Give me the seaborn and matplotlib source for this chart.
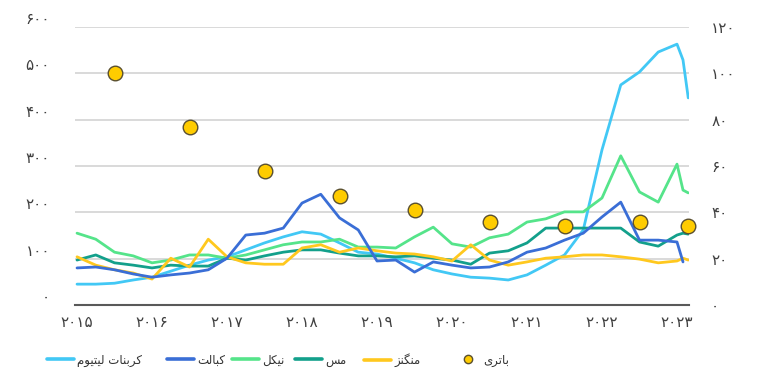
import numpy as np
import pandas as pd
import matplotlib
matplotlib.use("Agg")
import matplotlib.pyplot as plt
from matplotlib.lines import Line2D
import seaborn as sns

# ---------------- data ----------------
periods = [2015.0, 2015.25, 2015.5, 2015.75, 2016.0, 2016.25, 2016.5, 2016.75,
           2017.0, 2017.25, 2017.5, 2017.75, 2018.0, 2018.25, 2018.5, 2018.75,
           2019.0, 2019.25, 2019.5, 2019.75, 2020.0, 2020.25, 2020.5, 2020.75,
           2021.0, 2021.25, 2021.5, 2021.75, 2022.0, 2022.25, 2022.5, 2022.75,
           2023.0, 2023.08, 2023.15]
lithium = [45, 45, 47, 54, 60, 73, 86, 97, 104, 119, 134, 147, 158, 153, 134, 114,
           110, 101, 91, 76, 67, 60, 58, 54, 65, 86, 108, 162, 335, 475, 503, 546,
           563, 529, 447]
cobalt = [80, 82, 76, 67, 60, 65, 69, 76, 101, 151, 155, 166, 220, 239, 188, 162,
          95, 97, 71, 93, 86, 80, 82, 93, 114, 123, 140, 155, 190, 222, 140, 140,
          136, 93, np.nan]
nickel = [155, 142, 114, 106, 91, 97, 108, 108, 101, 108, 119, 130, 136, 136, 142, 125,
          125, 123, 147, 168, 132, 125, 145, 153, 179, 186, 201, 201, 231, 322, 244, 222,
          304, 248, 242]
copper = [97, 108, 91, 86, 80, 86, 84, 84, 101, 97, 106, 114, 119, 119, 112, 106,
          106, 104, 106, 101, 97, 88, 112, 117, 134, 166, 166, 166, 166, 166, 136, 127,
          151, 155, 153]
manganese = [104, 86, 76, 69, 56, 101, 82, 142, 104, 91, 88, 88, 123, 130, 114, 123,
             117, 112, 110, 104, 95, 130, 97, 86, 93, 101, 104, 108, 108, 104, 99, 91,
             95, 101, 97]
battery_x = [2015.5, 2016.5, 2017.5, 2018.5, 2019.5, 2020.5, 2021.5, 2022.5, 2023.15]
battery = [100, 77, 58, 47, 41, 36, 34, 36, 34]

series_names = ["کربنات لیتیوم", "کبالت", "نیکل", "مس", "منگنز"]
battery_name = "باتری"
year_ticks = [2015, 2016, 2017, 2018, 2019, 2020, 2021, 2022, 2023]
left_ticks = [0, 100, 200, 300, 400, 500, 600]
right_ticks = [0, 20, 40, 60, 80, 100, 120]

colors = ["#42C8F5", "#3A6ED6", "#55E48A", "#13A08B", "#FFC81E"]

# ---------------- helpers: Persian text shaping for matplotlib ----------------
FORMS = {  # iso, fin, ini, med  (2-tuple => right-joining only)
    "ا": ("\uFE8D", "\uFE8E"),
    "ب": ("\uFE8F", "\uFE90", "\uFE91", "\uFE92"),
    "ت": ("\uFE95", "\uFE96", "\uFE97", "\uFE98"),
    "ر": ("\uFEAD", "\uFEAE"),
    "ز": ("\uFEAF", "\uFEB0"),
    "س": ("\uFEB1", "\uFEB2", "\uFEB3", "\uFEB4"),
    "ل": ("\uFEDD", "\uFEDE", "\uFEDF", "\uFEE0"),
    "م": ("\uFEE1", "\uFEE2", "\uFEE3", "\uFEE4"),
    "ن": ("\uFEE5", "\uFEE6", "\uFEE7", "\uFEE8"),
    "و": ("\uFEED", "\uFEEE"),
    "ک": ("\uFB8E", "\uFB8F", "\uFB90", "\uFB91"),
    "گ": ("\uFB92", "\uFB93", "\uFB94", "\uFB95"),
    "ی": ("\uFBFC", "\uFBFD", "\uFBFE", "\uFBFF"),
}


def shape(text):
    out = []
    chars = list(text)
    for i, c in enumerate(chars):
        f = FORMS.get(c)
        if f is None:
            out.append(c)
            continue
        prev = chars[i - 1] if i > 0 else None
        nxt = chars[i + 1] if i + 1 < len(chars) else None
        jp = prev in FORMS and len(FORMS[prev]) == 4
        jn = len(f) == 4 and nxt in FORMS
        if jp and jn:
            out.append(f[3])
        elif jp:
            out.append(f[1])
        elif jn:
            out.append(f[2])
        else:
            out.append(f[0])
    return "".join(reversed(out))


PDIG = str.maketrans("0123456789", "۰۱۲۳۴۵۶۷۸۹")


def fa(n):
    return str(n).translate(PDIG)


# ---------------- plot ----------------
sns.set_theme(style="white")
plt.rcParams["font.family"] = ["DejaVu Sans"]

fig = plt.figure(figsize=(7.77, 3.83), dpi=100)
ax = fig.add_axes([75 / 777, 1 - 305 / 383, (689 - 75) / 777, (305 - 27) / 383])

df = pd.DataFrame({"period": periods, "l": lithium, "c": cobalt, "n": nickel,
                   "m": copper, "g": manganese})
long = df.melt(id_vars="period", var_name="key", value_name="value")
keymap = dict(zip(["l", "c", "n", "m", "g"], series_names))
long["series"] = long["key"].map(keymap)
long = long.dropna()

order = [series_names[0], series_names[2], series_names[3], series_names[4], series_names[1]]
for name in order:
    sub = long[long["series"] == name]
    sns.lineplot(data=sub, x="period", y="value", ax=ax, color=colors[series_names.index(name)],
                 linewidth=2.0, sort=False, estimator=None, legend=False)

TICK_FS = 11
ax.set_xlim(2014.973, 2023.16)
ax.set_ylim(0, 600)
ax.set_yticks(left_ticks)
ax.set_yticklabels([fa(v) for v in left_ticks], fontsize=TICK_FS, color="#404040")
ax.set_xticks(year_ticks)
ax.set_xticklabels([fa(v) for v in year_ticks], fontsize=TICK_FS, color="#404040")
ax.grid(axis="y", color="#D9D9D9", linewidth=1.4)
ax.grid(axis="x", visible=False)
ax.set_axisbelow(True)
for s in ["left", "right", "top"]:
    ax.spines[s].set_visible(False)
ax.spines["bottom"].set_color("#595959")
ax.spines["bottom"].set_linewidth(1.5)
ax.tick_params(axis="y", length=0, pad=18)
ax.tick_params(axis="x", length=5, width=1.5, color="#595959", direction="inout", pad=5)
plt.setp(ax.get_yticklabels(), va="bottom")
ax.set_xlabel("")
ax.set_ylabel("")

ax2 = ax.twinx()
bdf = pd.DataFrame({"x": battery_x, "v": battery})
sns.scatterplot(data=bdf, x="x", y="v", ax=ax2, s=110, color="#FFCC00",
                edgecolor="#5A5030", linewidth=1.0, zorder=5, clip_on=False, legend=False)
ax2.set_ylim(0, 120)
ax2.set_yticks(right_ticks)
ax2.set_yticklabels([fa(v) for v in right_ticks], fontsize=TICK_FS, color="#404040")
ax2.tick_params(axis="y", length=0, pad=16)
for s in ["left", "right", "top", "bottom"]:
    ax2.spines[s].set_visible(False)
ax2.set_ylabel("")
ax2.set_xlim(2014.973, 2023.16)

# legend: individual entries placed along the bottom
leg_y = 1 - 360 / 383
leg_x = [47, 167, 232, 295, 364]
for name, col, x in zip(series_names, colors, leg_x):
    h = Line2D([], [], color=col, linewidth=2.6)
    fig.legend([h], [shape(name)], loc="center left", bbox_to_anchor=(x / 777, leg_y),
               frameon=False, fontsize=8.5, handlelength=2.3, handletextpad=0.25,
               borderpad=0, borderaxespad=0, labelcolor="#333333")
hb = Line2D([], [], linestyle="none", marker="o", markersize=6, markerfacecolor="#FFCC00",
            markeredgecolor="#5A5030", markeredgewidth=1.0)
fig.legend([hb], [shape(battery_name)], loc="center left", bbox_to_anchor=(462 / 777, leg_y),
           frameon=False, fontsize=8.5, handlelength=1.0, handletextpad=0.8,
           borderpad=0, borderaxespad=0, labelcolor="#333333")

fig.savefig("out.png", dpi=100)
